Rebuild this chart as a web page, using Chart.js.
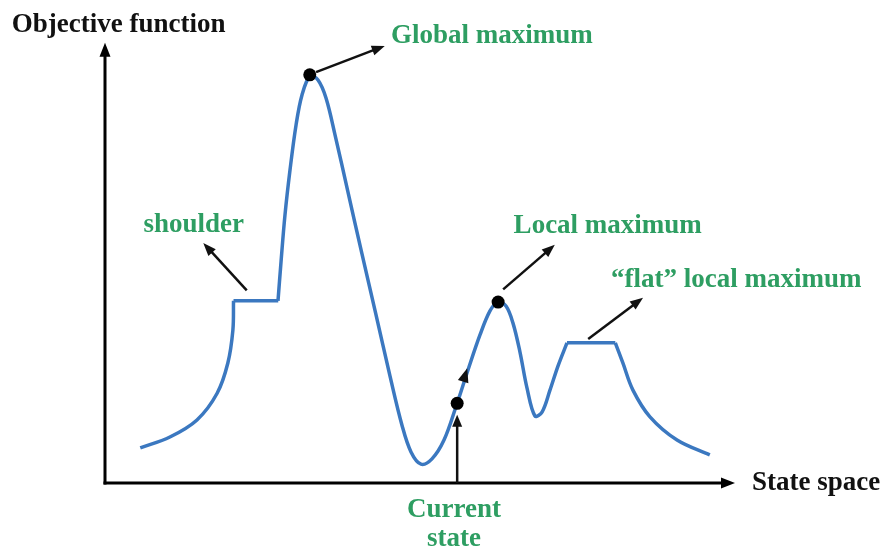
<!DOCTYPE html>
<html>
<head>
<meta charset="utf-8">
<script src="https://cdn.jsdelivr.net/npm/chart.js@4.4.1/dist/chart.umd.min.js"></script>
<style>
  body { margin: 0; background: #fff; }
  canvas { display: block; }
</style>
</head>
<body>
<canvas id="landscape" width="888" height="548"></canvas>
<script>
// state space (0-100) vs objective function (0-100)
const leftFlankX = [5.6, 10.3, 14.6, 17.8, 19.5, 20.3, 20.4];
const leftFlankY = [8.0, 10.5, 14.4, 20.5, 27.4, 34.9, 41.6];
const shoulderX = [20.4, 27.5];
const shoulderY = [41.6, 41.6];
const hillsX = [27.46, 27.94, 28.57, 29.37, 30.32, 31.27, 32.54, 33.81, 35.08, 36.51, 38.57, 40.79, 43.02, 45.24, 47.14, 48.57, 50.16, 51.90, 53.81, 55.71, 57.62, 59.52, 61.11, 62.38, 63.65, 64.76, 65.87, 66.98, 68.25, 69.37, 70.63, 71.90, 73.33];
const hillsY = [41.6, 50.5, 61.2, 71.5, 81.7, 88.6, 92.9, 92.0, 87.9, 79.5, 66.4, 52.3, 38.4, 24.4, 13.2, 7.1, 4.3, 5.5, 9.8, 17.4, 25.8, 33.8, 39.3, 41.3, 40.4, 36.5, 29.9, 21.7, 15.3, 16.2, 21.2, 26.7, 32.0];
const plateauX = [73.33, 81.0];
const plateauY = [32.0, 32.0];
const rightFlankX = [81.0, 82.2, 83.8, 86.5, 90.8, 96.0];
const rightFlankY = [32.0, 27.4, 21.2, 15.1, 9.8, 6.4];

const markerX = [32.5, 62.4, 55.9];
const markerY = [93.2, 41.3, 18.2];

const labelTexts = ['Objective function', 'State space', 'Global maximum', 'shoulder', 'Local maximum', '\u201cflat\u201d local maximum', 'Current', 'state'];

const blue = '#3b78c0';
const green = '#2e9e62';

function pts(xs, ys) {
  return xs.map((x, i) => ({ x: x, y: ys[i] }));
}

function curve(xs, ys) {
  return {
    data: pts(xs, ys),
    showLine: true,
    borderColor: blue,
    borderWidth: 3.5,
    pointRadius: 0,
    tension: 0.35,
    order: 2
  };
}

function arrowHead(ctx, x1, y1, x2, y2, len, half) {
  const a = Math.atan2(y2 - y1, x2 - x1);
  ctx.beginPath();
  ctx.moveTo(x2, y2);
  ctx.lineTo(x2 - len * Math.cos(a) + half * Math.sin(a), y2 - len * Math.sin(a) - half * Math.cos(a));
  ctx.lineTo(x2 - len * Math.cos(a) - half * Math.sin(a), y2 - len * Math.sin(a) + half * Math.cos(a));
  ctx.closePath();
  ctx.fill();
}

function arrow(ctx, x1, y1, x2, y2, width, len, half) {
  const a = Math.atan2(y2 - y1, x2 - x1);
  ctx.lineWidth = width;
  ctx.beginPath();
  ctx.moveTo(x1, y1);
  ctx.lineTo(x2 - len * 0.6 * Math.cos(a), y2 - len * 0.6 * Math.sin(a));
  ctx.stroke();
  arrowHead(ctx, x1, y1, x2, y2, len, half);
}

const diagram = {
  id: 'diagram',
  beforeDatasetsDraw(chart) {
    const ctx = chart.ctx;
    const xs = chart.scales.x, ys = chart.scales.y;
    const px = v => xs.getPixelForValue(v), py = v => ys.getPixelForValue(v);
    ctx.save();
    ctx.strokeStyle = '#000';
    ctx.fillStyle = '#000';
    // axes
    arrow(ctx, px(0), py(0) + 1.5, px(0), py(100.5), 3, 14, 5.5);
    arrow(ctx, px(0) - 1.5, py(0), px(100), py(0), 3, 14, 5.5);
    ctx.restore();
  },
  afterDatasetsDraw(chart) {
    const ctx = chart.ctx;
    const xs = chart.scales.x, ys = chart.scales.y;
    const px = v => xs.getPixelForValue(v), py = v => ys.getPixelForValue(v);
    ctx.save();
    ctx.strokeStyle = '#111';
    ctx.fillStyle = '#111';
    // pointer arrows
    arrow(ctx, px(33.5), py(93.8), px(44.4), py(99.8), 2.5, 13, 5);
    arrow(ctx, px(22.5), py(44.0), px(15.6), py(54.8), 2.5, 13, 5);
    arrow(ctx, px(63.2), py(44.2), px(71.4), py(54.4), 2.5, 13, 5);
    arrow(ctx, px(76.7), py(32.9), px(85.4), py(42.3), 2.5, 13, 5);
    // current state arrow
    arrow(ctx, px(55.9), py(0), px(55.9), py(15.6), 2.5, 12, 5);
    // direction of climb on the curve
    arrowHead(ctx, px(56.6), py(22.0), px(57.5), py(26.2), 14, 5.5);

    // texts
    ctx.textBaseline = 'alphabetic';
    ctx.font = 'bold 27px "Liberation Serif", "DejaVu Serif", serif';
    ctx.fillStyle = '#111';
    ctx.textAlign = 'left';
    ctx.fillText(labelTexts[0], px(-14.8), py(103.0));
    ctx.fillText(labelTexts[1], px(102.7), py(-1.6));
    ctx.fillStyle = green;
    ctx.textAlign = 'center';
    ctx.fillText(labelTexts[2], px(61.4), py(100.5));
    ctx.fillText(labelTexts[3], px(14.1), py(57.3));
    ctx.fillText(labelTexts[4], px(79.8), py(57.1));
    ctx.fillText(labelTexts[5], px(100.2), py(44.7));
    ctx.fillText(labelTexts[6], px(55.4), py(-7.8));
    ctx.fillText(labelTexts[7], px(55.4), py(-14.4));
    ctx.restore();
  }
};

new Chart(document.getElementById('landscape'), {
  type: 'scatter',
  data: {
    datasets: [
      {
        data: pts(markerX, markerY),
        pointRadius: 6.5,
        pointBackgroundColor: '#000',
        pointBorderWidth: 0,
        showLine: false,
        order: 1
      },
      curve(leftFlankX, leftFlankY),
      curve(shoulderX, shoulderY),
      curve(hillsX, hillsY),
      curve(plateauX, plateauY),
      curve(rightFlankX, rightFlankY)
    ]
  },
  options: {
    responsive: false,
    animation: false,
    devicePixelRatio: 1,
    layout: { padding: { left: 105, right: 153, top: 45, bottom: 65 } },
    scales: {
      x: { type: 'linear', min: 0, max: 100, display: false },
      y: { type: 'linear', min: 0, max: 100, display: false }
    },
    plugins: {
      legend: { display: false },
      tooltip: { enabled: false }
    }
  },
  plugins: [diagram]
});
</script>
</body>
</html>
